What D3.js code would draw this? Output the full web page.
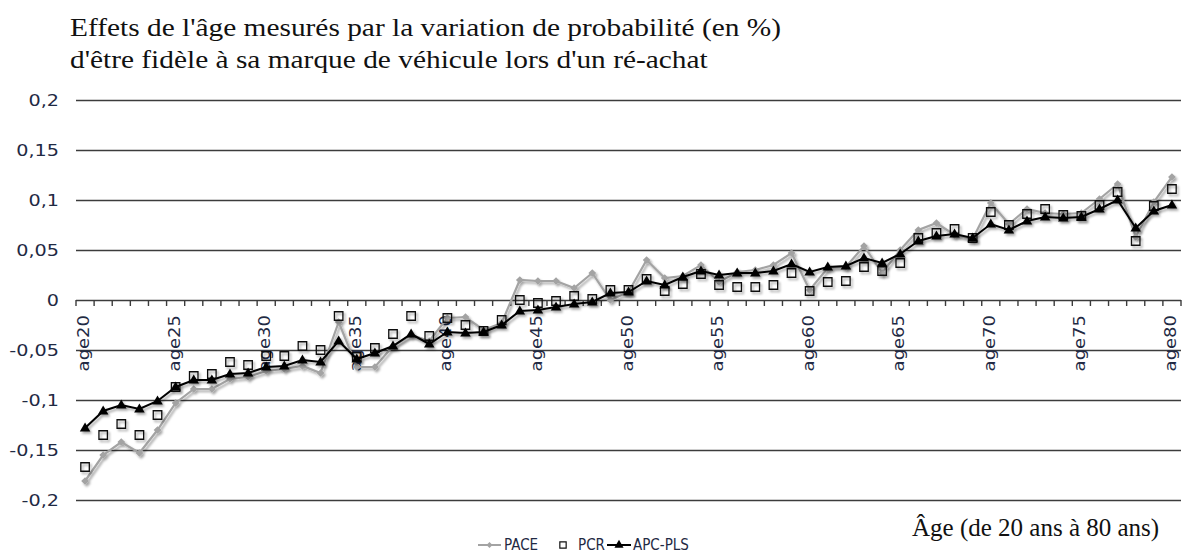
<!DOCTYPE html>
<html>
<head>
<meta charset="utf-8">
<script src="https://cdn.jsdelivr.net/npm/d3@7"></script>
<style>
  body { margin: 0; background: #fff; }
  svg { display: block; }
</style>
</head>
<body>
<svg id="chart" width="1186" height="553"></svg>
<script>
// Age categories (one per year of age)
const categories = [
  "age20","age21","age22","age23","age24","age25","age26","age27","age28","age29",
  "age30","age31","age32","age33","age34","age35","age36","age37","age38","age39",
  "age40","age41","age42","age43","age44","age45","age46","age47","age48","age49",
  "age50","age51","age52","age53","age54","age55","age56","age57","age58","age59",
  "age60","age61","age62","age63","age64","age65","age66","age67","age68","age69",
  "age70","age71","age72","age73","age74","age75","age76","age77","age78","age79",
  "age80"
];
// Categories that carry a visible label
const labelledCategories = ["age20","age25","age30","age35","age40","age45","age50","age55","age60","age65","age70","age75","age80"];
const yTicks = [-0.2, -0.15, -0.1, -0.05, 0, 0.05, 0.1, 0.15, 0.2];

// Estimated age effects for each method
const pace = [
  -0.181, -0.155, -0.142, -0.153, -0.130, -0.103, -0.089, -0.089, -0.079, -0.077,
  -0.071, -0.069, -0.066, -0.073, -0.022, -0.067, -0.067, -0.046, -0.035, -0.041,
  -0.018, -0.017, -0.030, -0.023,  0.020,  0.019,  0.019,  0.012,  0.027,  0.000,
   0.008,  0.040,  0.022,  0.024,  0.035,  0.018,  0.028,  0.030,  0.035,  0.047,
   0.010,  0.032,  0.033,  0.054,  0.027,  0.050,  0.070,  0.077,  0.065,  0.061,
   0.097,  0.076,  0.091,  0.087,  0.086,  0.087,  0.101,  0.116,  0.063,  0.098,
   0.123
];
const pcr = [
  -0.167, -0.135, -0.124, -0.135, -0.115, -0.087, -0.076, -0.074, -0.062, -0.065,
  -0.056, -0.056, -0.046, -0.050, -0.016, -0.057, -0.048, -0.034, -0.016, -0.036,
  -0.018, -0.025, -0.031, -0.020,  0.000, -0.003, -0.001,  0.004,  0.001,  0.010,
   0.010,  0.021,  0.009,  0.016,  0.026,  0.015,  0.013,  0.013,  0.015,  0.027,
   0.009,  0.018,  0.019,  0.033,  0.029,  0.037,  0.062,  0.067,  0.071,  0.062,
   0.088,  0.075,  0.086,  0.091,  0.085,  0.084,  0.095,  0.108,  0.059,  0.094,
   0.111
];
const apcPls = [
  -0.128, -0.111, -0.105, -0.109, -0.101, -0.087, -0.080, -0.080, -0.074, -0.073,
  -0.067, -0.066, -0.060, -0.062, -0.041, -0.059, -0.053, -0.046, -0.034, -0.044,
  -0.032, -0.033, -0.032, -0.025, -0.011, -0.010, -0.007, -0.004, -0.002,  0.007,
   0.008,  0.019,  0.015,  0.023,  0.029,  0.025,  0.027,  0.027,  0.029,  0.036,
   0.028,  0.033,  0.034,  0.042,  0.037,  0.046,  0.059,  0.064,  0.066,  0.062,
   0.076,  0.070,  0.079,  0.083,  0.082,  0.083,  0.091,  0.100,  0.072,  0.089,
   0.095
];
const seriesNames = ["PACE", "PCR", "APC-PLS"];
const titleLines = [
  "Effets de l'âge mesurés par la variation de probabilité (en %)",
  "d'être fidèle à sa marque de véhicule lors d'un ré-achat"
];
const xAxisTitle = "Âge (de 20 ans à 80 ans)";

// ---------------------------------------------------------------
const svg = d3.select("#chart");
const plotLeft = 76, plotRight = 1181, plotTop = 100, plotBottom = 500;
const labelColor = "#1f2a44";
const gridColor = "#3c3c3c";
const paceColor = "#a3a3a3";

const x = d3.scaleBand().domain(categories).range([plotLeft, plotRight]).padding(0);
const cx = c => x(c) + x.bandwidth() / 2;
const y = d3.scaleLinear().domain([-0.2, 0.2]).range([plotBottom, plotTop]);

const fmt = d3.formatLocale({ decimal: ",", thousands: " ", grouping: [3], currency: ["", " €"], minus: "-" }).format("~g");

// soft drop shadow under the series
const defs = svg.append("defs");
const shadow = defs.append("filter").attr("id", "shadow")
  .attr("x", "-5%").attr("y", "-20%").attr("width", "110%").attr("height", "140%");
shadow.append("feDropShadow").attr("dx", 1.8).attr("dy", 2.2)
  .attr("stdDeviation", 1.3).attr("flood-color", "#000").attr("flood-opacity", 0.35);

// title
svg.append("g").selectAll("text").data(titleLines).join("text")
  .attr("transform", (d, i) => `translate(70,${36 + i * 32}) scale(1.13,1)`)
  .attr("font-family", "'Liberation Serif', 'Times New Roman', serif")
  .attr("font-size", 26).attr("fill", "#111")
  .text(d => d);

// y axis: horizontal gridlines + labels
const yAxis = svg.append("g").attr("transform", `translate(${plotLeft},0)`)
  .call(d3.axisLeft(y).tickValues(yTicks).tickFormat(fmt).tickSize(-(plotRight - plotLeft)).tickPadding(0));
yAxis.select(".domain").remove();
yAxis.selectAll(".tick line").attr("stroke", gridColor).attr("stroke-width", 1.4);
yAxis.selectAll(".tick text")
  .attr("x", 0).attr("dy", "0.36em")
  .attr("transform", "translate(-17,0) scale(1.2,1)")
  .attr("font-family", "'DejaVu Sans', Verdana, sans-serif")
  .attr("font-size", 16).attr("fill", labelColor);

// category tick marks on the zero line
const boundaries = categories.map(c => x(c)).concat([plotRight]);
svg.append("g").selectAll("line").data(boundaries).join("line")
  .attr("x1", d => d).attr("x2", d => d)
  .attr("y1", y(0)).attr("y2", y(0) + 6)
  .attr("stroke", gridColor).attr("stroke-width", 1.4);

// category labels (rotated)
const xAxis = svg.append("g").attr("transform", `translate(0,${y(0)})`)
  .call(d3.axisBottom(x).tickValues(labelledCategories).tickSize(0));
xAxis.select(".domain").remove();
xAxis.selectAll(".tick text")
  .attr("x", 0).attr("y", 0).attr("dy", 0)
  .attr("text-anchor", "end")
  .attr("transform", "translate(4,15) rotate(-90) scale(1.2,1)")
  .attr("font-family", "'DejaVu Sans', Verdana, sans-serif")
  .attr("font-size", 15).attr("fill", labelColor);

// series
const line = d3.line().x((d, i) => cx(categories[i])).y(d => y(d));

const gPace = svg.append("g").attr("filter", "url(#shadow)");
gPace.append("path").datum(pace).attr("d", line)
  .attr("fill", "none").attr("stroke", paceColor).attr("stroke-width", 2.2);
gPace.selectAll("path.m").data(pace).join("path").attr("class", "m")
  .attr("d", d3.symbol(d3.symbolSquare, 30))
  .attr("transform", (d, i) => `translate(${cx(categories[i])},${y(d)}) rotate(45)`)
  .attr("fill", paceColor);

const gPcr = svg.append("g").attr("filter", "url(#shadow)");
gPcr.selectAll("path").data(pcr).join("path")
  .attr("d", d3.symbol(d3.symbolSquare, 72))
  .attr("transform", (d, i) => `translate(${cx(categories[i])},${y(d)})`)
  .attr("fill", "none").attr("stroke", "#111").attr("stroke-width", 1.3);

const gApc = svg.append("g").attr("filter", "url(#shadow)");
gApc.append("path").datum(apcPls).attr("d", line)
  .attr("fill", "none").attr("stroke", "#000").attr("stroke-width", 2);
gApc.selectAll("path.m").data(apcPls).join("path").attr("class", "m")
  .attr("d", d3.symbol(d3.symbolTriangle, 48))
  .attr("transform", (d, i) => `translate(${cx(categories[i])},${y(d) + 0.5})`)
  .attr("fill", "#000");

// x axis title
svg.append("text").attr("x", 912).attr("y", 536)
  .attr("font-family", "'Liberation Serif', 'Times New Roman', serif")
  .attr("font-size", 25).attr("fill", "#111")
  .text(xAxisTitle);

// legend
const lg = svg.append("g").attr("transform", "translate(0,545)");
const legendFont = "'DejaVu Sans Condensed', 'Liberation Sans Narrow', sans-serif";
// PACE
lg.append("line").attr("x1", 478).attr("x2", 501).attr("stroke", paceColor).attr("stroke-width", 2);
lg.append("path").attr("d", d3.symbol(d3.symbolSquare, 18)).attr("transform", "translate(489.5,0) rotate(45)").attr("fill", paceColor);
lg.append("text").attr("x", 504).attr("dy", "0.36em").text(seriesNames[0]);
// PCR
lg.append("path").attr("d", d3.symbol(d3.symbolSquare, 40)).attr("transform", "translate(563,0)")
  .attr("fill", "none").attr("stroke", "#111").attr("stroke-width", 1.2);
lg.append("text").attr("x", 578).attr("dy", "0.36em").text(seriesNames[1]);
// APC-PLS
lg.append("line").attr("x1", 607).attr("x2", 631).attr("stroke", "#000").attr("stroke-width", 2);
lg.append("path").attr("d", d3.symbol(d3.symbolTriangle, 36)).attr("transform", "translate(619,0)").attr("fill", "#000");
lg.append("text").attr("x", 633).attr("dy", "0.36em").text(seriesNames[2]);
lg.selectAll("text").attr("font-family", legendFont).attr("font-size", 15).attr("fill", labelColor);
</script>
</body>
</html>
